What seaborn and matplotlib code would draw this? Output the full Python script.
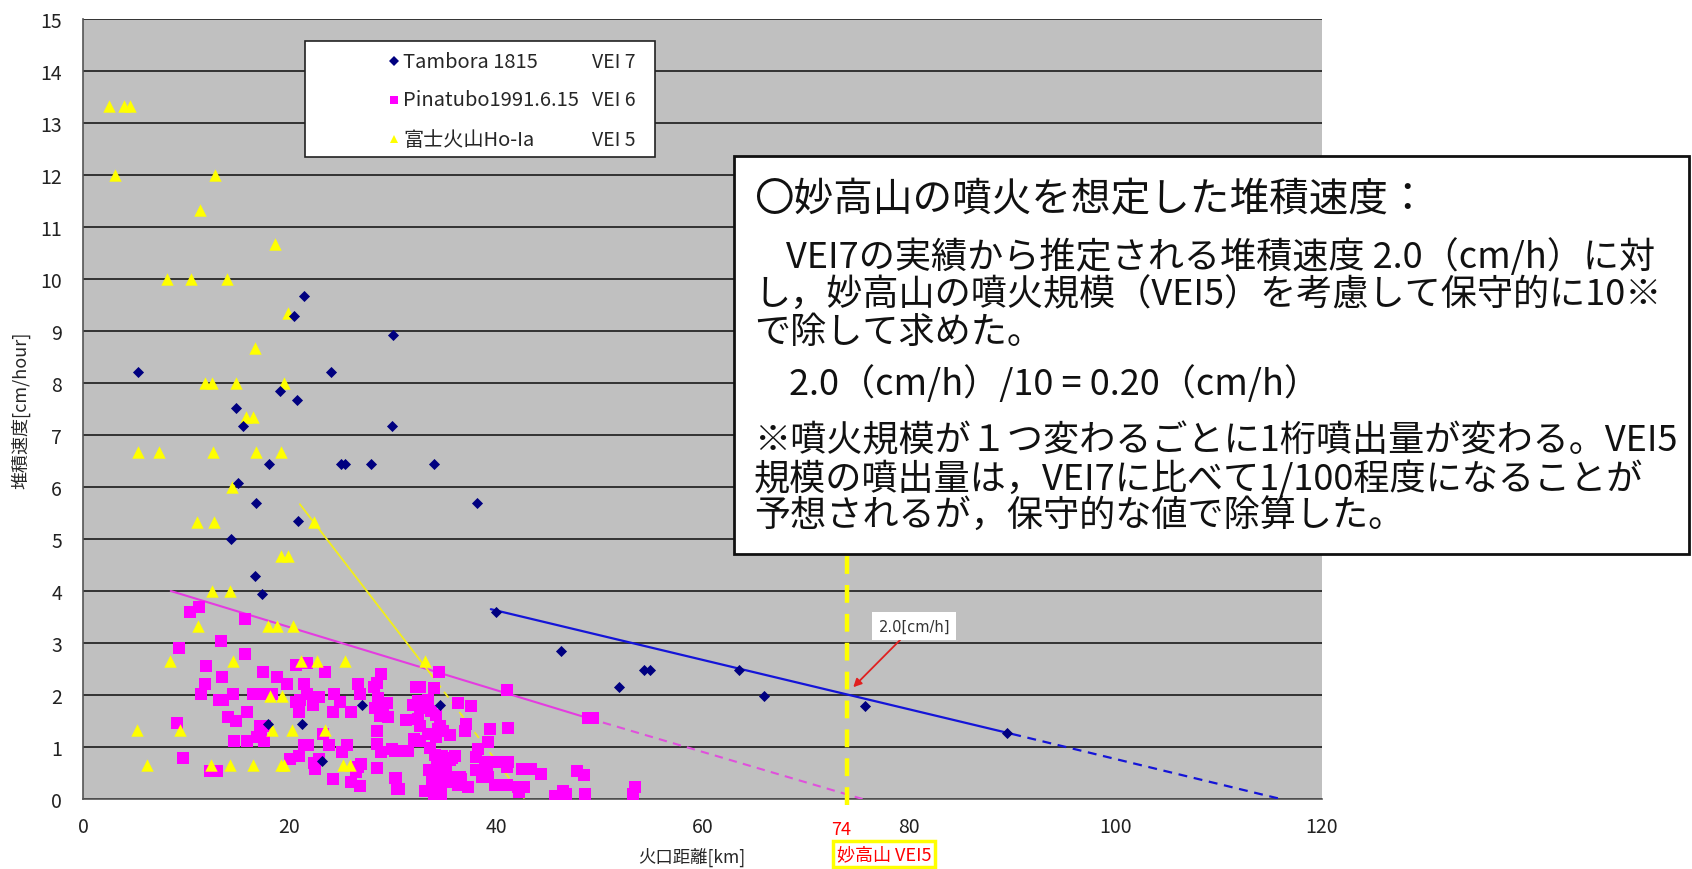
import numpy as np
import pandas as pd
import seaborn as sns
import matplotlib
matplotlib.use("Agg")
import matplotlib.pyplot as plt
from matplotlib.patches import Rectangle
from matplotlib.lines import Line2D

# ---- data ----
# Tambora 1815 (VEI 7)
tam_x = [5.3, 21.4, 20.4, 30.0, 24.0, 19.1, 20.7, 14.8, 15.5, 29.9, 18.0, 25.0, 25.4, 27.9,
         34.0, 15.0, 16.8, 38.2, 20.8, 14.3, 16.7, 17.3, 40.0, 27.0, 34.6, 17.9, 21.2, 23.1,
         46.3, 51.9, 54.3, 54.9, 63.5, 66.0, 75.7, 89.5]
tam_y = [8.22, 9.67, 9.29, 8.93, 8.22, 7.85, 7.68, 7.51, 7.17, 7.17, 6.44, 6.44, 6.44, 6.44,
         6.44, 6.07, 5.70, 5.70, 5.35, 5.00, 4.29, 3.94, 3.59, 1.81, 1.81, 1.44, 1.44, 0.74,
         2.85, 2.15, 2.49, 2.49, 2.49, 1.98, 1.79, 1.26]

# Pinatubo 1991.6.15 (VEI 6)
pin_x = [10.4, 11.2, 15.7, 13.4, 9.3, 15.7, 11.9, 17.4, 13.5, 18.8, 11.8, 19.8, 11.4, 13.2,
         13.6, 14.5, 16.5, 17.4, 18.3, 15.9, 14.0, 14.8, 9.1, 17.1, 17.6, 17.2, 17.5, 14.6,
         15.9, 16.9, 9.7, 12.3, 13.0, 20.0,
         20.6, 21.7, 23.4, 21.4, 21.7, 22.9, 20.6, 20.9, 22.3, 21.0, 24.3, 24.9, 24.2, 26.0,
         26.6, 26.8, 28.9, 28.2, 28.5, 28.6, 29.0, 29.4, 28.3, 29.1, 28.8, 29.5, 28.5, 28.5,
         28.9, 21.5, 20.9, 22.4, 22.5, 22.9, 23.8, 23.2, 25.1, 25.6, 24.2, 26.0, 26.6, 26.9,
         26.4, 26.8, 28.5, 30.2, 30.4, 21.4, 21.8,
         32.3, 32.6, 34.0, 34.5, 32.4, 32.0, 32.6, 33.0, 33.4, 33.7, 34.2, 31.3, 32.4, 32.6,
         32.1, 32.6, 33.4, 29.9, 30.9, 31.5, 30.2, 36.3, 37.6, 37.1, 37.0, 39.4, 41.2, 35.5,
         34.4, 34.9, 34.2, 34.6, 33.6, 34.1, 34.8, 35.7, 36.0, 34.3, 35.0, 35.5, 38.3, 38.1,
         39.2, 39.1, 41.1, 42.5, 43.4, 44.4, 38.1, 35.2, 35.7, 36.5, 36.1, 34.1, 30.3, 34.1,
         35.2, 36.3, 37.3, 38.6, 39.2, 30.6, 33.1, 34.2, 34.7, 39.9, 41.1, 42.1, 42.7, 42.2,
         34.0, 34.7, 33.5, 33.8, 34.5, 36.6,
         41.1, 48.9, 49.4, 47.8, 48.5, 45.7, 46.5, 46.8, 48.6, 53.5, 53.3, 40.3, 41.2, 38.9,
         39.4]
pin_y = [3.59, 3.69, 3.46, 3.03, 2.90, 2.78, 2.56, 2.45, 2.34, 2.34, 2.22, 2.22, 2.01, 1.90,
         1.90, 2.01, 2.01, 2.01, 2.01, 1.67, 1.58, 1.50, 1.46, 1.41, 1.41, 1.22, 1.12, 1.12,
         1.12, 1.19, 0.79, 0.53, 0.53, 0.77,
         2.58, 2.62, 2.45, 2.22, 2.02, 1.97, 1.86, 1.68, 1.80, 1.90, 2.02, 1.86, 1.67, 1.67,
         2.22, 2.02, 2.40, 2.15, 2.23, 1.95, 1.85, 1.85, 1.75, 1.72, 1.60, 1.57, 1.31, 1.06,
         0.90, 1.04, 0.83, 0.70, 0.58, 0.77, 1.03, 1.25, 0.90, 1.03, 0.38, 0.33, 0.62, 0.67,
         0.52, 0.25, 0.59, 0.41, 0.19, 1.03, 1.03,
         2.15, 2.15, 2.13, 2.45, 1.88, 1.80, 1.75, 1.85, 1.90, 1.70, 1.62, 1.51, 1.54, 1.40,
         1.15, 1.12, 1.25, 0.96, 0.93, 0.93, 0.93, 1.84, 1.79, 1.44, 1.31, 1.35, 1.36, 1.23,
         1.35, 1.30, 1.20, 1.40, 0.98, 0.85, 0.82, 0.78, 0.82, 0.72, 0.70, 0.75, 0.96, 0.80,
         1.09, 0.62, 0.62, 0.58, 0.58, 0.49, 0.56, 0.56, 0.43, 0.43, 0.33, 0.43, 0.41, 0.27,
         0.33, 0.26, 0.23, 0.43, 0.43, 0.19, 0.16, 0.10, 0.13, 0.26, 0.26, 0.23, 0.23, 0.13,
         0.05, 0.08, 0.55, 0.35, 0.60, 0.38,
         2.10, 1.56, 1.56, 0.53, 0.46, 0.06, 0.16, 0.10, 0.09, 0.23, 0.10, 0.71, 0.71, 0.71,
         0.71]

# 富士火山 Ho-Ia (VEI 5)
fuji_x = [2.5, 4.0, 4.6, 3.1, 12.8, 11.3, 18.6, 8.1, 10.5, 13.9, 19.9, 16.7, 11.8, 12.5,
          14.8, 19.5, 15.8, 16.5, 5.3, 7.4, 12.6, 16.8, 19.2, 14.4, 11.0, 12.7, 22.4, 19.2,
          19.9, 12.5, 14.2, 11.1, 17.9, 18.8, 20.3, 8.4, 14.5, 21.1, 22.7, 25.4, 33.1, 18.1,
          19.3, 5.2, 9.4, 18.3, 20.2, 23.4, 6.2, 12.4, 14.2, 16.5, 19.2, 19.5, 25.2, 25.9]
fuji_y = [13.33, 13.33, 13.33, 12.0, 12.0, 11.33, 10.67, 10.0, 10.0, 10.0, 9.35, 8.68, 8.0, 8.0,
          8.0, 8.0, 7.34, 7.34, 6.67, 6.67, 6.67, 6.67, 6.67, 6.0, 5.32, 5.32, 5.32, 4.67,
          4.67, 4.0, 4.0, 3.32, 3.32, 3.32, 3.32, 2.66, 2.66, 2.66, 2.66, 2.66, 2.66, 1.99,
          1.99, 1.33, 1.33, 1.33, 1.33, 1.33, 0.66, 0.66, 0.66, 0.66, 0.66, 0.66, 0.66, 0.66]

# trend lines (fitted part, extrapolated part)
tam_fit_x, tam_fit_y = [39.5, 90.0], [3.65, 1.25]
tam_ext_x, tam_ext_y = [90.0, 116.0], [1.25, 0.0]
pin_fit_x, pin_fit_y = [8.5, 49.0], [4.0, 1.55]
pin_ext_x, pin_ext_y = [49.0, 75.5], [1.55, 0.0]
fuji_fit_x, fuji_fit_y = [21.0, 33.5], [5.67, 2.45]
fuji_ext_x, fuji_ext_y = [33.5, 42.8], [2.45, 0.0]

myoko_x = 74
rate_at_myoko = 2.0

legend_names = ["Tambora 1815", "Pinatubo1991.6.15", "富士火山Ho-Ia"]
legend_vei = ["VEI 7", "VEI 6", "VEI 5"]

note_lines = [
    "〇妙高山の噴火を想定した堆積速度：",
    "VEI7の実績から推定される堆積速度 2.0（cm/h）に対",
    "し，妙高山の噴火規模（VEI5）を考慮して保守的に10※",
    "で除して求めた。",
    "2.0（cm/h）/10 = 0.20（cm/h）",
    "※噴火規模が１つ変わるごとに1桁噴出量が変わる。VEI5",
    "規模の噴出量は，VEI7に比べて1/100程度になることが",
    "予想されるが，保守的な値で除算した。",
]

# ---- style ----
sns.set_style("white")
plt.rcParams["font.family"] = ["Noto Sans CJK JP", "DejaVu Sans"]

W, H = 1692, 870
fig = plt.figure(figsize=(W / 100, H / 100), dpi=100)
fig.patch.set_facecolor("white")


def fx(px):
    return px / W


def fy(py):
    return 1 - py / H


ax = fig.add_axes([fx(83), fy(800), fx(1322) - fx(83), fy(20) - fy(800)])
ax.set_facecolor("#C0C0C0")

# trend lines
ax.plot(tam_fit_x, tam_fit_y, color="#1414D8", lw=1.6, zorder=3)
ax.plot(tam_ext_x, tam_ext_y, color="#1414D8", lw=1.6, ls=(0, (4, 3)), zorder=3)
ax.plot(pin_fit_x, pin_fit_y, color="#E43CE0", lw=1.5, zorder=3)
ax.plot(pin_ext_x, pin_ext_y, color="#E050DC", lw=1.5, ls=(0, (4, 3)), zorder=3)
ax.plot(fuji_fit_x, fuji_fit_y, color="#F2EE1A", lw=1.3, zorder=3)
ax.plot(fuji_ext_x, fuji_ext_y, color="#F2EE1A", lw=1.3, ls=(0, (4, 3)), zorder=3)

# scatter series
sns.scatterplot(x=pin_x, y=pin_y, marker="s", color="#FF00FF", s=70, linewidth=0, ax=ax, zorder=4)
sns.scatterplot(x=fuji_x, y=fuji_y, marker="^", color="#FFFF00", s=80, linewidth=0, ax=ax, zorder=4)
sns.scatterplot(x=tam_x, y=tam_y, marker="D", color="#000080", s=32, linewidth=0, ax=ax, zorder=5)

# myoko vertical line
ax.plot([myoko_x, myoko_x], [-0.12, 4.8], color="#FFFF00", lw=3.2, ls=(0, (4, 2.5)),
        clip_on=False, zorder=6)

ax.annotate("2.0[cm/h]", xy=(74.6, 2.15), xytext=(80.5, 3.33), fontsize=10.5, color="#333333",
            ha="center", va="center", family=["DejaVu Sans"],
            bbox=dict(boxstyle="square,pad=0.45", fc="white", ec="none"),
            arrowprops=dict(arrowstyle="-|>", color="#E02020", lw=1.3, mutation_scale=12,
                            shrinkA=0, shrinkB=0), zorder=7)

ax.set_xlim(0, 120)
ax.set_ylim(0, 15)
ax.set_xticks(range(0, 121, 20))
ax.set_yticks(range(0, 16))
ax.grid(axis="y", color="#333333", lw=1.4)
ax.grid(axis="x", visible=False)
ax.set_axisbelow(True)
for side in ["top", "right"]:
    ax.spines[side].set_visible(False)
for side in ["left", "bottom"]:
    ax.spines[side].set_color("#555555")
    ax.spines[side].set_linewidth(1.2)
ax.tick_params(axis="x", direction="in", length=6, pad=12, labelsize=14, colors="#222222")
ax.tick_params(axis="y", direction="in", length=0, pad=15, labelsize=14, colors="#222222")
ax.set_xlabel("")
ax.set_ylabel("")

fig.text(fx(692), fy(857), "火口距離[km]", fontsize=12.5, ha="center", va="center")
fig.text(fx(21), fy(410), "堆積速度[cm/hour]", fontsize=13, rotation=90,
         ha="center", va="center")

# legend box
fig.add_artist(Rectangle((fx(305), fy(158)), fx(655) - fx(305), fy(42) - fy(158),
                         transform=fig.transFigure, fc="white", ec="#222222", lw=1.2, zorder=8))
leg_rows = [62, 101, 140]
leg_marks = [("D", "#000080", 5), ("s", "#FF00FF", 6), ("^", "#FFFF00", 6)]
for row, name, vei, (mk, col, ms) in zip(leg_rows, legend_names, legend_vei, leg_marks):
    fig.add_artist(Line2D([fx(394)], [fy(row)], marker=mk, color=col, ms=ms, mew=0, ls="none",
                          transform=fig.transFigure, zorder=9))
    fig.text(fx(403), fy(row), name, fontsize=14.5, ha="left", va="center", zorder=9)
    fig.text(fx(592), fy(row), vei, fontsize=14, ha="left", va="center", zorder=9)

# note box
fig.add_artist(Rectangle((fx(734), fy(555)), fx(1689) - fx(734), fy(157) - fy(555),
                         transform=fig.transFigure, fc="white", ec="#111111", lw=2, zorder=8))
note_y = [200, 257, 296, 333, 384, 441, 479, 517]
note_x = [754, 786, 754, 754, 789, 754, 754, 754]
note_size = [28.5, 26, 26, 26, 26, 26, 26, 26]
for txt, px, py, fs in zip(note_lines, note_x, note_y, note_size):
    fig.text(fx(px), fy(py), txt, fontsize=fs, ha="left", va="center", zorder=9,
             color="#111111")

# myoko label under axis
fig.text(fx(841), fy(830), str(myoko_x), fontsize=13, color="red", ha="center", va="center")
fig.text(fx(884), fy(855), "妙高山 VEI5", fontsize=13, color="red", ha="center", va="center",
         bbox=dict(boxstyle="square,pad=0.2", fc="white", ec="#FFFF00", lw=2.5))

fig.savefig("out.png", dpi=100)
